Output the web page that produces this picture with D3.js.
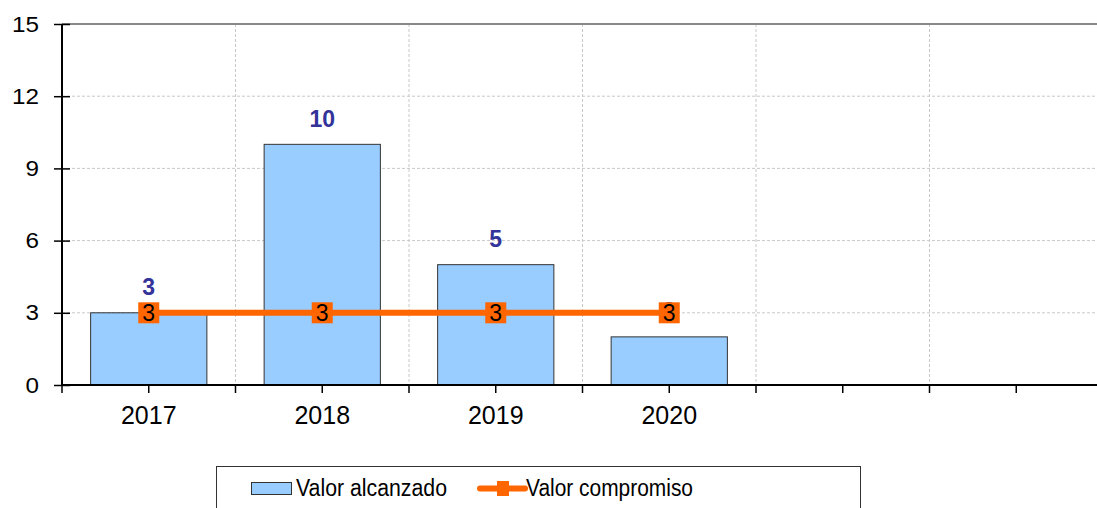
<!DOCTYPE html>
<html>
<head>
<meta charset="utf-8">
<script src="https://cdn.jsdelivr.net/npm/d3@7"></script>
<style>
  html, body { margin: 0; padding: 0; background: #fff; }
  svg { display: block; font-family: "Liberation Sans", Arial, sans-serif; }
</style>
</head>
<body>
<svg id="chart" width="1097" height="508"></svg>
<script>
const categories = ["2017", "2018", "2019", "2020", "", ""];
const valorAlcanzado = [3, 10, 5, 2, null, null];
const valorCompromiso = [3, 3, 3, 3, null, null];
const yTicks = [0, 3, 6, 9, 12, 15];
const seriesNames = ["Valor alcanzado", "Valor compromiso"];

const svg = d3.select("#chart");
const pLeft = 62, pTop = 24, pBottom = 385, band = 173.5;
const idx = d3.range(categories.length);

const x = d3.scaleBand().domain(idx).range([pLeft, pLeft + band * categories.length]).padding(0);
const y = d3.scaleLinear().domain([0, 15]).range([pBottom, pTop]);
const barW = x.bandwidth() * 0.67;
const cx = i => x(i) + x.bandwidth() / 2;

// horizontal grid
svg.append("g").selectAll("line").data(yTicks.filter(t => t > 0 && t < 15)).join("line")
  .attr("x1", pLeft).attr("x2", 1097).attr("y1", d => y(d)).attr("y2", d => y(d))
  .attr("stroke", "#c8c8c8").attr("stroke-width", 1).attr("stroke-dasharray", "3,2");
// vertical grid at band boundaries
svg.append("g").selectAll("line").data(idx.slice(1)).join("line")
  .attr("x1", d => x(d)).attr("x2", d => x(d)).attr("y1", pTop).attr("y2", pBottom)
  .attr("stroke", "#c8c8c8").attr("stroke-width", 1).attr("stroke-dasharray", "3,2");
// top border
svg.append("line").attr("x1", pLeft).attr("x2", 1097).attr("y1", pTop).attr("y2", pTop)
  .attr("stroke", "#888").attr("stroke-width", 2);

// bars
svg.append("g").selectAll("rect").data(idx.filter(i => valorAlcanzado[i] != null)).join("rect")
  .attr("x", i => cx(i) - barW / 2).attr("width", barW)
  .attr("y", i => y(valorAlcanzado[i])).attr("height", i => y(0) - y(valorAlcanzado[i]))
  .attr("fill", "#99CCFF").attr("stroke", "#333").attr("stroke-width", 1);

// bar labels
svg.append("g").selectAll("text").data(idx.filter(i => valorAlcanzado[i] != null)).join("text")
  .attr("x", i => cx(i)).attr("y", i => y(valorAlcanzado[i]) - 17.5)
  .attr("text-anchor", "middle").attr("font-size", 23).attr("font-weight", "bold")
  .attr("fill", "#333399").text(i => valorAlcanzado[i]);

// line
const lineIdx = idx.filter(i => valorCompromiso[i] != null);
svg.append("path").datum(lineIdx)
  .attr("d", d3.line().x(i => cx(i)).y(i => y(valorCompromiso[i])))
  .attr("fill", "none").attr("stroke", "#FF6600").attr("stroke-width", 6);
svg.append("g").selectAll("rect").data(lineIdx).join("rect")
  .attr("x", i => cx(i) - 10.5).attr("y", i => y(valorCompromiso[i]) - 10.5)
  .attr("width", 21).attr("height", 21).attr("fill", "#FF6600");
svg.append("g").selectAll("text").data(lineIdx).join("text")
  .attr("x", i => cx(i)).attr("y", i => y(valorCompromiso[i]) + 8.5)
  .attr("text-anchor", "middle").attr("font-size", 23).attr("fill", "#000")
  .text(i => valorCompromiso[i]);

// y axis
const yAxis = svg.append("g").attr("transform", `translate(${pLeft},0)`)
  .call(d3.axisLeft(y).tickValues(yTicks).tickSize(8).tickPadding(15));
yAxis.select(".domain").attr("stroke", "#000").attr("stroke-width", 2).attr("d", `M0,${pTop}V${pBottom}`);
yAxis.selectAll(".tick line").attr("x1", -8).attr("x2", 8).attr("stroke", "#000").attr("stroke-width", 1.5);
yAxis.selectAll(".tick text").attr("font-size", 22).attr("fill", "#000")
  .attr("font-family", "Liberation Sans, Arial, sans-serif")
  .attr("textLength", d => String(d).length * 13.5).attr("lengthAdjust", "spacingAndGlyphs");

// x axis
const xAxis = svg.append("g").attr("transform", `translate(0,${pBottom})`)
  .call(d3.axisBottom(x).tickFormat(i => categories[i]).tickSize(8).tickPadding(13));
xAxis.select(".domain").attr("stroke", "#000").attr("stroke-width", 2).attr("d", `M${pLeft},0H1097`);
xAxis.selectAll(".tick line").attr("stroke", "#000").attr("stroke-width", 1.5);
xAxis.selectAll(".tick text").attr("font-size", 25).attr("fill", "#000")
  .attr("font-family", "Liberation Sans, Arial, sans-serif");
xAxis.append("g").selectAll("line").data(d3.range(categories.length + 1)).join("line")
  .attr("x1", d => pLeft + d * x.bandwidth()).attr("x2", d => pLeft + d * x.bandwidth())
  .attr("y1", 0).attr("y2", 8).attr("stroke", "#000").attr("stroke-width", 1.5);

// legend
const lg = svg.append("g");
lg.append("rect").attr("x", 216.5).attr("y", 466.5).attr("width", 644).attr("height", 60)
  .attr("fill", "#fff").attr("stroke", "#333").attr("stroke-width", 1);
lg.append("rect").attr("x", 251.5).attr("y", 482.5).attr("width", 40).attr("height", 12)
  .attr("fill", "#99CCFF").attr("stroke", "#333").attr("stroke-width", 1);
lg.append("text").attr("x", 296).attr("y", 496).attr("font-size", 23)
  .attr("textLength", 151).attr("lengthAdjust", "spacingAndGlyphs").text(seriesNames[0]);
lg.append("line").attr("x1", 480).attr("x2", 525).attr("y1", 488.5).attr("y2", 488.5)
  .attr("stroke", "#FF6600").attr("stroke-width", 6).attr("stroke-linecap", "round");
lg.append("rect").attr("x", 497).attr("y", 481).attr("width", 12).attr("height", 15).attr("fill", "#FF6600");
lg.append("text").attr("x", 526).attr("y", 496).attr("font-size", 23)
  .attr("textLength", 167).attr("lengthAdjust", "spacingAndGlyphs").text(seriesNames[1]);
</script>
</body>
</html>
